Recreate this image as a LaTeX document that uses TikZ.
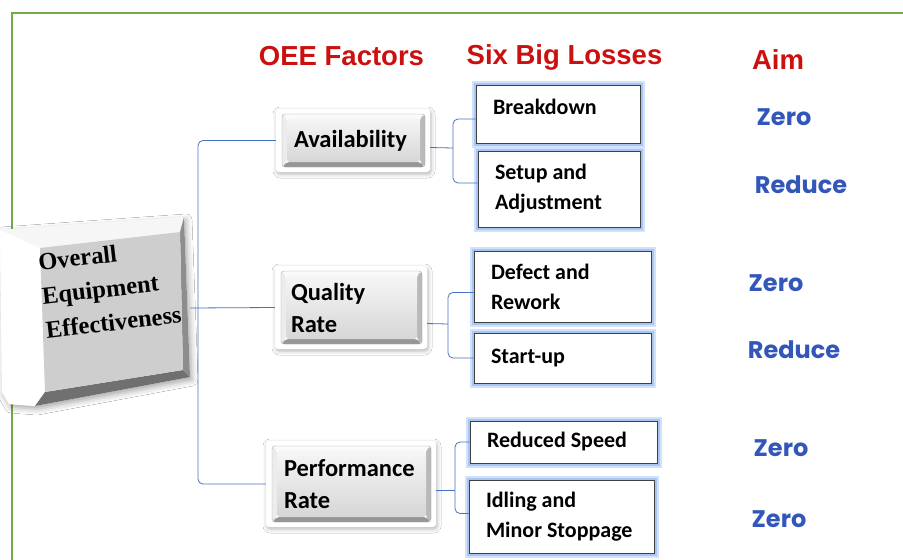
\documentclass[tikz,border=0pt]{standalone}
\usepackage{fontspec}
\usetikzlibrary{calc,shadows,shadows.blur}

\newfontfamily\calibfont{Carlito}
\newfontfamily\headfont{Liberation Sans}
\newfontfamily\aimfont{Poppins}
\newfontfamily\serifbold{Liberation Serif}

\definecolor{frameGreen}{RGB}{112,173,71}
\definecolor{headRed}{RGB}{204,16,16}
\definecolor{aimBlue}{RGB}{50,86,185}
\definecolor{linkBlue}{RGB}{68,114,196}
\definecolor{glowBlue}{RGB}{168,198,244}
\definecolor{btnTop}{RGB}{250,250,250}
\definecolor{btnLeft}{RGB}{236,236,236}
\definecolor{btnRight}{RGB}{185,185,185}
\definecolor{btnBottom}{RGB}{150,150,150}
\definecolor{faceTop}{RGB}{246,246,246}
\definecolor{faceBot}{RGB}{214,214,214}
\definecolor{oeeFace}{RGB}{206,206,206}
\definecolor{oeeDark}{RGB}{112,112,112}
\definecolor{oeeLight}{RGB}{246,246,246}

% bevelled push-button face drawn inside a factor node
\newcommand\bevelbutton{%
  \path ($(path picture bounding box.north west)+(6,5)$) coordinate (o1)
        ($(path picture bounding box.south east)+(-5,-5)$) coordinate (o2)
        ($(o1)+(5,4)$) coordinate (i1)
        ($(o2)+(-5,-5)$) coordinate (i2);
  \fill[btnTop] (o1) -- (o1 -| o2) -- (i1 -| i2) -- (i1) -- cycle;
  \fill[btnLeft] (o1) -- (i1) -- (i1 |- i2) -- (o1 |- o2) -- cycle;
  \fill[btnRight] (o1 -| o2) -- (o2) -- (i2) -- (i1 -| i2) -- cycle;
  \fill[btnBottom] (o1 |- o2) -- (i1 |- i2) -- (i2) -- (o2) -- cycle;
  \shade[top color=faceTop, bottom color=faceBot] (i1) rectangle (i2);
  \draw[black!35, line width=0.4pt] (o1) rectangle (o2);
}

\tikzset{
  conn/.style={draw=linkBlue, line width=0.8pt, rounded corners=5pt},
  header/.style={font=\headfont\bfseries\fontsize{27.5}{30}\selectfont, text=headRed, inner sep=0pt},
  aim/.style={font=\aimfont\bfseries\fontsize{24}{28}\selectfont, text=aimBlue, inner sep=0pt},
  factor/.style={rectangle, rounded corners=3pt, fill=white,
    blur shadow={shadow xshift=1pt, shadow yshift=-2pt, shadow blur radius=4pt, shadow opacity=30},
    path picture={\bevelbutton},
    align=flush left, inner ysep=0pt,
    font=\calibfont\bfseries\fontsize{24.5}{32}\selectfont},
  loss/.style={rectangle, draw=black!75, line width=1pt, fill=white,
    preaction={draw=glowBlue!50, line width=9pt},
    preaction={draw=glowBlue, line width=5pt},
    align=flush left, inner xsep=17pt, inner ysep=0pt,
    font=\calibfont\bfseries\fontsize{22}{30}\selectfont},
  oeetext/.style={font=\serifbold\bfseries\fontsize{24.5}{34}\selectfont, align=left, inner sep=0pt}
}

\begin{document}
\begin{tikzpicture}[x=1pt, y=-1pt]
  \useasboundingbox (0,0) rectangle (903,560);
  \fill[white] (0,0) rectangle (903,560);

  % green page frame
  \draw[frameGreen, line width=2.5pt] (12,562) -- (12,13) -- (905,13);

  % column headings
  \node[header] (hFactors) at (341.5,56) {OEE Factors};
  \node[header] (hLosses) at (564.5,57) {Six Big Losses};
  \node[header] (hAim) at (778,60) {Aim};

  % bevelled OEE block
  \path[fill=white, blur shadow={shadow xshift=2pt, shadow yshift=-3pt, shadow blur radius=6pt, shadow opacity=35}]
    (0,230) -- (184,217) -- (190,377) -- (35,406) -- (9,404) -- (2,392) -- cycle;
  \fill[oeeLight] (0,230) -- (184,217) -- (180,232) -- (40,248) -- cycle;
  \fill[white] (0,230) -- (40,248) -- (45,392) -- (35,406) -- (9,404) -- (2,392) -- cycle;
  \fill[oeeDark!80] (184,217) -- (190,377) -- (183,370) -- (180,232) -- cycle;
  \fill[oeeDark] (45,392) -- (183,370) -- (190,377) -- (35,406) -- cycle;
  \fill[oeeFace] (40,248) -- (180,232) -- (183,370) -- (45,392) -- cycle;
  \node[oeetext, rotate=6.5, anchor=west] (oee) at (42,296) {Overall\\Equipment\\Effectiveness};
  \coordinate (oeeR) at (190,308);

  % OEE factors
  \node[factor, minimum width=154pt, minimum height=63pt, text width=118pt, inner xsep=18pt] (av) at (353,140.5) {Availability};
  \node[factor, minimum width=152pt, minimum height=83pt, text width=120pt, inner xsep=16pt] (qr) at (351,307.5) {Quality\\Rate};
  \node[factor, minimum width=170pt, minimum height=86pt, text width=134pt, inner xsep=18pt] (pr) at (351,484) {Performance\\Rate};

  % six big losses
  \node[loss, minimum width=164pt, minimum height=58pt, text width=130pt, text depth=14pt] (br) at (558,114) {Breakdown};
  \node[loss, minimum width=162pt, minimum height=76pt, text width=128pt] (su) at (559,189) {Setup and\\Adjustment};
  \node[loss, minimum width=177pt, minimum height=71pt, text width=143pt] (de) at (562.5,286.5) {Defect and\\Rework};
  \node[loss, minimum width=177pt, minimum height=50pt, text width=143pt] (st) at (562.5,358) {Start-up};
  \node[loss, minimum width=187pt, minimum height=42pt, text width=153pt] (rs) at (563.5,442) {Reduced Speed};
  \node[loss, minimum width=185pt, minimum height=73pt, text width=151pt] (id) at (561.5,516.5) {Idling and\\Minor Stoppage};

  % aims
  \node[aim] (a1) at (784,117) {Zero};
  \node[aim] (a2) at (801,185) {Reduce};
  \node[aim] (a3) at (776,283) {Zero};
  \node[aim] (a4) at (794,350) {Reduce};
  \node[aim] (a5) at (781,448) {Zero};
  \node[aim] (a6) at (779,519) {Zero};

  % OEE to factors
  \coordinate (trunk) at (198,308);
  \draw[conn] (oeeR) -- (qr.west);
  \draw[conn] (av.west) -| (trunk) |- (pr.west);

  % factors to losses
  \coordinate (bAv) at (453,148);
  \coordinate (bQr) at (448,324);
  \coordinate (bPr) at (455,490);
  \draw[conn] ([yshift=-7pt]av.east) -- (bAv);
  \draw[conn] ([yshift=-5pt]br.west) -| (bAv) |- ([yshift=6pt]su.west);
  \draw[conn] ([yshift=-16pt]qr.east) -- (bQr);
  \draw[conn] ([yshift=-6pt]de.west) -| (bQr) |- (st.west);
  \draw[conn] ([yshift=-6pt]pr.east) -- (bPr);
  \draw[conn] (rs.west) -| (bPr) |- ([yshift=3pt]id.west);
\end{tikzpicture}
\end{document}
